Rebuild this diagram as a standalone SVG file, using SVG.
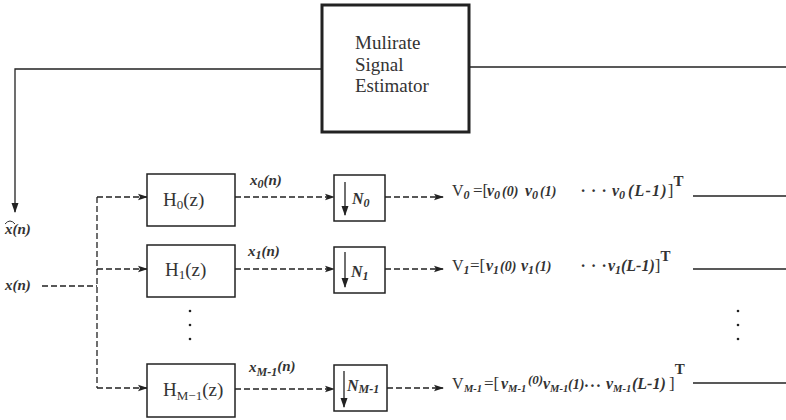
<svg xmlns="http://www.w3.org/2000/svg" width="786" height="420" viewBox="0 0 786 420">
<defs>
<marker id="ah" markerWidth="10" markerHeight="8" refX="9" refY="4" orient="auto" markerUnits="userSpaceOnUse">
<path d="M0,0.8 L10,4 L0,7.2 L2,4 Z" fill="#222"/>
</marker>
<marker id="ah2" markerWidth="10" markerHeight="8" refX="9" refY="4" orient="auto" markerUnits="userSpaceOnUse">
<path d="M0,0.5 L10,4 L0,7.5 Z" fill="#222"/>
</marker>
</defs>
<style>
.box{fill:#fff;stroke:#222;stroke-width:1.5}
.est{fill:#fff;stroke:#222;stroke-width:3}
.sol{fill:none;stroke:#222;stroke-width:1.3}
.dash{fill:none;stroke:#222;stroke-width:1.3;stroke-dasharray:6 3}
.rm{font-family:"Liberation Serif",serif;fill:#333}
.bi{font-family:"Liberation Serif",serif;font-weight:bold;font-style:italic;fill:#333}
.h{font-family:"Liberation Serif",serif;font-size:19px;fill:#333}
.dot{fill:#222}
</style>

<g id="connectors">
<polyline class="sol" points="322,69 15,69 15,212" marker-end="url(#ah2)"/>
<line class="sol" x1="469" y1="67" x2="786" y2="67"/>
<line class="dash" x1="42" y1="286" x2="97" y2="286"/>
<line class="dash" x1="97" y1="197" x2="97" y2="388"/>
<line class="dash" x1="97" y1="197" x2="147" y2="197" marker-end="url(#ah)"/>
<line class="dash" x1="97" y1="269" x2="147" y2="269" marker-end="url(#ah)"/>
<line class="dash" x1="97" y1="388" x2="147" y2="388" marker-end="url(#ah)"/>
<line class="dash" x1="235" y1="197" x2="334" y2="197" marker-end="url(#ah)"/>
<line class="dash" x1="235" y1="269" x2="334" y2="269" marker-end="url(#ah)"/>
<line class="dash" x1="235" y1="389" x2="334" y2="389" marker-end="url(#ah)"/>
<line class="dash" x1="385" y1="197" x2="443" y2="197" marker-end="url(#ah)"/>
<line class="dash" x1="385" y1="269" x2="443" y2="269" marker-end="url(#ah)"/>
<line class="dash" x1="387" y1="388" x2="443" y2="388" marker-end="url(#ah)"/>
<line class="sol" x1="693" y1="196" x2="786" y2="196"/>
<line class="sol" x1="693" y1="269" x2="786" y2="269"/>
<line class="sol" x1="693" y1="383" x2="786" y2="383"/>
</g>

<g id="estimator">
<rect class="est" x="322" y="5" width="147" height="127"/>
<text class="rm" font-size="19" x="355" y="49">Mulirate</text>
<text class="rm" font-size="19" x="355" y="71">Signal</text>
<text class="rm" font-size="19" x="355" y="92">Estimator</text>
</g>

<g id="labels-in">
<text class="bi" font-size="15" x="5" y="234">x(n)</text>
<path d="M5,224 Q10,218 15,224" fill="none" stroke="#333" stroke-width="1"/>
<text class="bi" font-size="15" x="5" y="290">x(n)</text>
</g>

<g id="H0">
<rect class="box" x="147" y="174" width="88" height="52"/>
<text class="h" x="163" y="206">H<tspan font-size="13" dy="3">0</tspan><tspan dy="-3">(z)</tspan></text>
</g>
<g id="H1">
<rect class="box" x="147" y="245" width="88" height="52"/>
<text class="h" x="165" y="276">H<tspan font-size="13" dy="3">1</tspan><tspan dy="-3">(z)</tspan></text>
</g>
<g id="HM1">
<rect class="box" x="147" y="364" width="88" height="53"/>
<text class="h" x="163" y="396">H<tspan font-size="13" dy="4">M−1</tspan><tspan dy="-4">(z)</tspan></text>
</g>

<g id="vdots-left">
<circle class="dot" cx="190" cy="311" r="1.3"/>
<circle class="dot" cx="190" cy="325" r="1.3"/>
<circle class="dot" cx="190" cy="339" r="1.3"/>
</g>
<g id="vdots-right">
<circle class="dot" cx="738" cy="311" r="1.3"/>
<circle class="dot" cx="738" cy="325" r="1.3"/>
<circle class="dot" cx="738" cy="339" r="1.3"/>
</g>

<g id="xlabels">
<text class="bi" font-size="15" x="250" y="185">x<tspan font-size="12" dy="3">0</tspan><tspan dy="-3">(n)</tspan></text>
<text class="bi" font-size="15" x="248" y="256">x<tspan font-size="12" dy="3">1</tspan><tspan dy="-3">(n)</tspan></text>
<text class="bi" font-size="15" x="249" y="372">x<tspan font-size="12" dy="4">M-1</tspan><tspan dy="-5">(n)</tspan></text>
</g>

<g id="N0">
<rect class="box" x="334" y="175" width="51" height="46"/>
<line class="sol" x1="345" y1="182" x2="345" y2="215" marker-end="url(#ah2)"/>
<text class="bi" font-size="16" x="352" y="204">N<tspan font-size="12" dy="3">0</tspan></text>
</g>
<g id="N1">
<rect class="box" x="334" y="247" width="51" height="46"/>
<line class="sol" x1="345" y1="252" x2="345" y2="287" marker-end="url(#ah2)"/>
<text class="bi" font-size="16" x="351" y="277">N<tspan font-size="12" dy="3">1</tspan></text>
</g>
<g id="NM1">
<rect class="box" x="334" y="365" width="53" height="46"/>
<line class="sol" x1="344" y1="371" x2="344" y2="407" marker-end="url(#ah2)"/>
<text class="bi" font-size="16" x="347" y="391">N<tspan font-size="12" dy="2">M-1</tspan></text>
</g>

<g id="V0">
<text class="rm" font-size="17" y="196"><tspan x="452" font-size="16">V</tspan><tspan class="bi" font-size="12" dy="3">0</tspan><tspan x="473" dy="-3">=[</tspan><tspan class="bi" font-size="16" x="487">v</tspan><tspan class="bi" font-size="12" dy="3">0</tspan><tspan class="bi" font-size="14" dy="-3" x="502">(0)</tspan><tspan class="bi" font-size="16" x="525">v</tspan><tspan class="bi" font-size="12" dy="3">0</tspan><tspan class="bi" font-size="14" dy="-3" x="540">(1)</tspan><tspan class="bi" font-size="16" x="581 591.5 602">···</tspan><tspan class="bi" font-size="16" x="612">v</tspan><tspan class="bi" font-size="12" dy="3">0</tspan><tspan class="bi" font-size="16" dy="-3" x="628" letter-spacing="1.2">(L-1)</tspan><tspan>]</tspan><tspan font-weight="bold" font-size="15" dy="-10">T</tspan></text>
</g>
<g id="V1">
<text class="rm" font-size="17" y="271"><tspan x="452" font-size="16">V</tspan><tspan class="bi" font-size="12" dy="3">1</tspan><tspan x="470" dy="-3">=[</tspan><tspan class="bi" font-size="16" x="486">v</tspan><tspan class="bi" font-size="12" dy="3">1</tspan><tspan class="bi" font-size="14" dy="-3" x="500">(0)</tspan><tspan class="bi" font-size="16" x="521">v</tspan><tspan class="bi" font-size="12" dy="3">1</tspan><tspan class="bi" font-size="14" dy="-3" x="535">(1)</tspan><tspan class="bi" font-size="16" x="581 591.5 602">···</tspan><tspan class="bi" font-size="16" x="608">v</tspan><tspan class="bi" font-size="12" dy="3">1</tspan><tspan class="bi" font-size="16" dy="-3" x="621">(L-1)</tspan><tspan>]</tspan><tspan font-weight="bold" font-size="15" dy="-10">T</tspan></text>
</g>
<g id="VM1">
<text class="rm" font-size="17" y="389"><tspan x="452" font-size="16">V</tspan><tspan class="bi" font-size="10.5" dy="3" x="464">M-1</tspan><tspan x="484" dy="-3">=[</tspan><tspan class="bi" font-size="16" x="501">v</tspan><tspan class="bi" font-size="10.5" dy="3">M-1</tspan><tspan class="bi" font-size="13" dy="-8" x="528">(0)</tspan><tspan class="bi" font-size="16" dy="5" x="543">v</tspan><tspan class="bi" font-size="10.5" dy="3">M-1</tspan><tspan class="bi" font-size="14" dy="-3" x="568">(1)</tspan><tspan class="bi" font-size="16" dy="-2" x="585 591 597">...</tspan><tspan class="bi" font-size="16" dy="2" x="606">v</tspan><tspan class="bi" font-size="10.5" dy="3">M-1</tspan><tspan class="bi" font-size="16" dy="-3" x="632">(L-1)</tspan><tspan x="669">]</tspan><tspan font-weight="bold" font-size="15" dy="-15">T</tspan></text>
</g>
</svg>
